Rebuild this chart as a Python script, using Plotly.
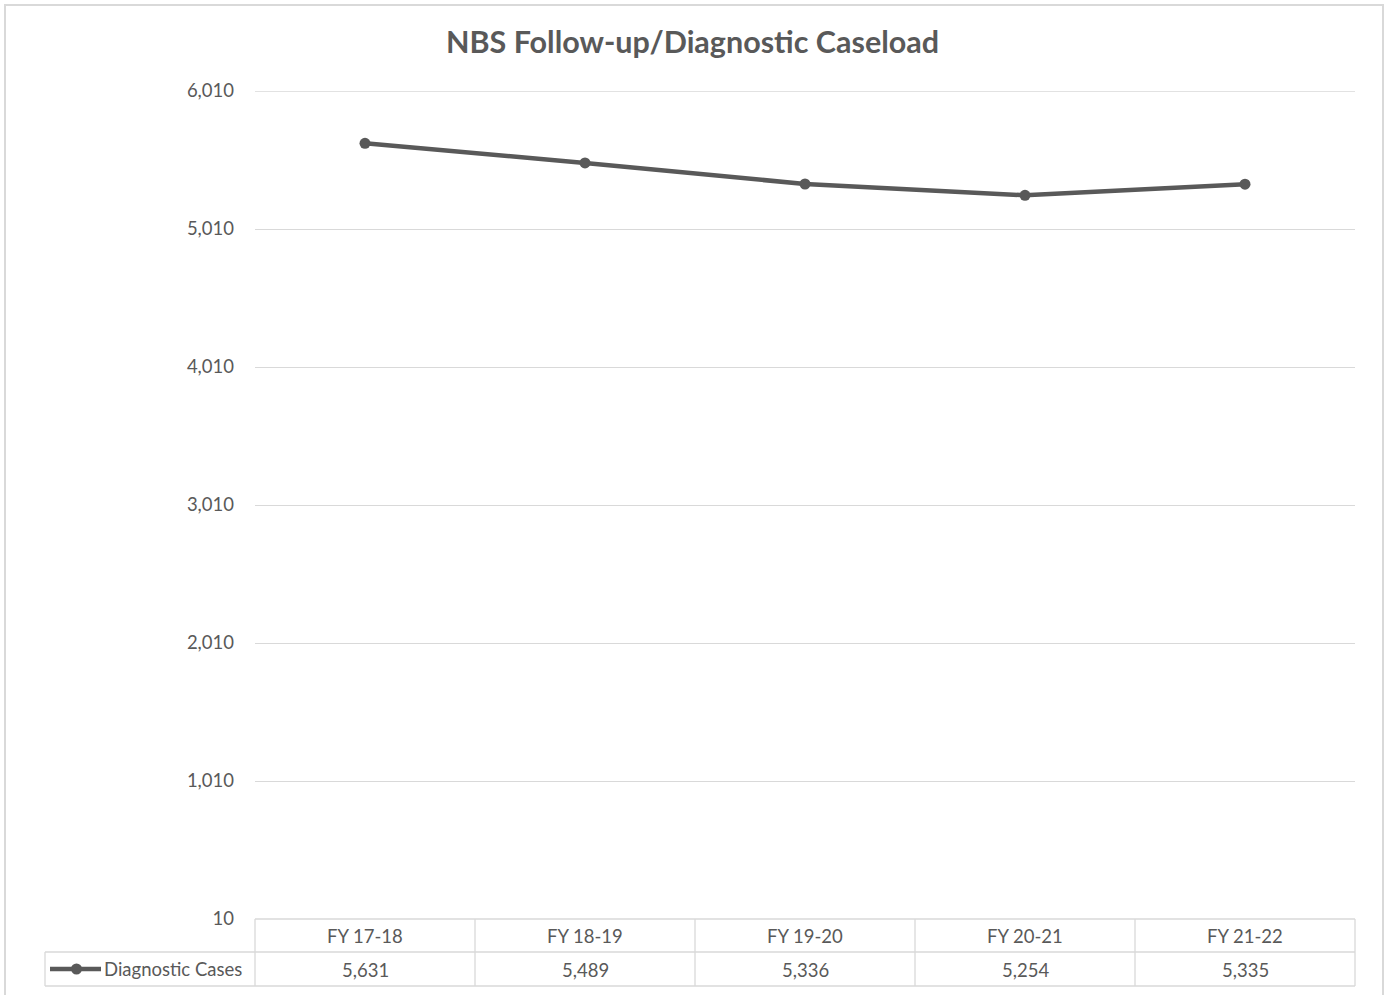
import plotly.graph_objects as go

categories = ["FY 17-18", "FY 18-19", "FY 19-20", "FY 20-21", "FY 21-22"]
cases = [5631, 5489, 5336, 5254, 5335]
series_name = "Diagnostic Cases"
y_ticks = [10, 1010, 2010, 3010, 4010, 5010, 6010]

W, H = 1385, 995
L, R, T, B = 255, 1355, 91, 919  # plot area in pixels
PW, PH = R - L, B - T

def px(x):
    return (x - L) / PW

def py(y):
    return (B - y) / PH

TXT = "#595959"
GRID = "#d9d9d9"
FONT = "Lato"
FS = 18.5

xpos = [i + 0.5 for i in range(len(categories))]

fig = go.Figure()
fig.add_trace(go.Scatter(
    x=xpos, y=cases, mode="lines+markers", name=series_name,
    line=dict(color="#595959", width=4.5),
    marker=dict(color="#595959", size=11),
    showlegend=False,
))

shapes = []
# outer chart border
shapes.append(dict(type="rect", xref="paper", yref="paper",
                   x0=px(5), x1=px(1383), y0=py(1000), y1=py(5),
                   line=dict(color="#d9d9d9", width=2), layer="below"))
# top gridline (plotly clips gridlines at the range edge)
shapes.append(dict(type="line", xref="paper", yref="y", x0=0, x1=1,
                   y0=y_ticks[-1], y1=y_ticks[-1], layer="below",
                   line=dict(color=GRID, width=1.3)))

def hline(x0, x1, y):
    shapes.append(dict(type="line", xref="paper", yref="paper",
                       x0=px(x0), x1=px(x1), y0=py(y), y1=py(y),
                       line=dict(color=GRID, width=1.3)))

def vline(x, y0, y1):
    shapes.append(dict(type="line", xref="paper", yref="paper",
                       x0=px(x), x1=px(x), y0=py(y0), y1=py(y1),
                       line=dict(color=GRID, width=1.3)))

row1_top, row_mid, row_bot = 919, 952, 986
hline(L, R, row1_top)
hline(45, R, row_mid)
hline(45, R, row_bot)
vline(45, row_mid, row_bot)
n = len(categories)
for i in range(n + 1):
    xx = L + PW * i / n
    vline(xx, row1_top, row_bot)

# legend key in the table
shapes.append(dict(type="line", xref="paper", yref="paper",
                   x0=px(50), x1=px(101), y0=py(969), y1=py(969),
                   line=dict(color="#595959", width=4.5)))
shapes.append(dict(type="circle", xref="paper", yref="paper",
                   x0=px(71), x1=px(82), y0=py(974.5), y1=py(963.5),
                   fillcolor="#595959", line=dict(color="#595959", width=0)))

annotations = []
for i, (c, v) in enumerate(zip(categories, cases)):
    cx = L + PW * (i + 0.5) / n
    annotations.append(dict(text=c, xref="paper", yref="paper", x=px(cx), y=py(936),
                            showarrow=False, xanchor="center", yanchor="middle",
                            font=dict(family=FONT, size=FS, color=TXT)))
    annotations.append(dict(text=f"{v:,}", xref="paper", yref="paper", x=px(cx), y=py(970),
                            showarrow=False, xanchor="center", yanchor="middle",
                            font=dict(family=FONT, size=FS, color=TXT)))
annotations.append(dict(text=series_name, xref="paper", yref="paper", x=px(102), y=py(969),
                        showarrow=False, xanchor="left", yanchor="middle",
                        font=dict(family=FONT, size=FS, color=TXT)))

fig.update_layout(
    width=W, height=H,
    margin=dict(l=L, r=W - R, t=T, b=H - B, pad=0),
    paper_bgcolor="white", plot_bgcolor="white",
    title=dict(text="<b>NBS Follow-up/Diagnostic Caseload</b>", x=0.5, xref="container",
               xanchor="center", y=1 - 42 / H, yref="container", yanchor="middle",
               font=dict(family=FONT, size=30.5, color=TXT)),
    xaxis=dict(range=[0, n], showgrid=False, showticklabels=False, zeroline=False,
               showline=False, ticks=""),
    yaxis=dict(range=[10, 6010], tickvals=y_ticks, ticktext=[f"{t:,}" for t in y_ticks],
               showgrid=True, gridcolor=GRID, gridwidth=1.3, zeroline=False, showline=False,
               ticks="", ticklabelstandoff=20,
               tickfont=dict(family=FONT, size=FS, color=TXT)),
    shapes=shapes,
    annotations=annotations,
    showlegend=False,
)

fig.write_html("out.html")
